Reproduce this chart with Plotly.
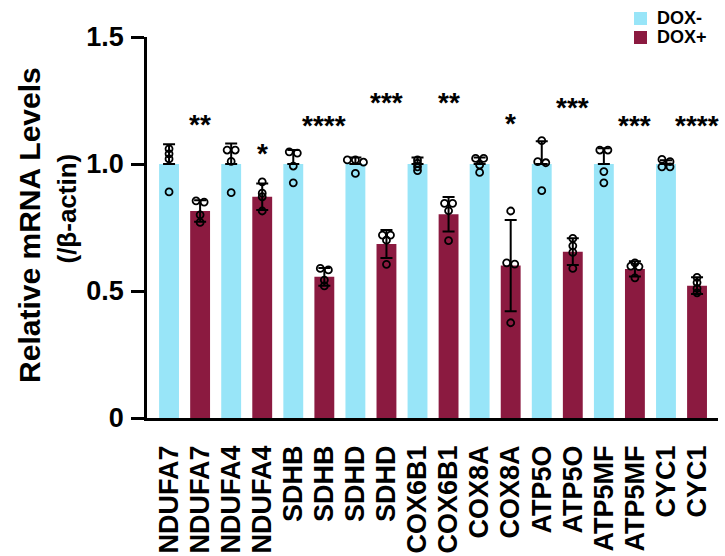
import plotly.graph_objects as go

genes = ["NDUFA7", "NDUFA4", "SDHB", "SDHD", "COX6B1", "COX8A", "ATP5O", "ATP5MF", "CYC1"]

dox_minus_mean = [1.0, 1.0, 1.0, 1.0, 1.0, 1.0, 1.0, 1.0, 1.0]
dox_minus_sd = [0.078, 0.081, 0.055, 0.026, 0.026, 0.026, 0.090, 0.062, 0.015]
dox_plus_mean = [0.815, 0.871, 0.556, 0.685, 0.802, 0.600, 0.655, 0.587, 0.521]
dox_plus_sd = [0.042, 0.052, 0.035, 0.055, 0.068, 0.180, 0.053, 0.030, 0.033]

dox_minus_pts = [
    [1.06, 1.04, 1.02, 0.89],
    [1.055, 1.055, 1.01, 0.887],
    [1.048, 1.043, 0.992, 0.926],
    [1.016, 1.016, 1.007, 0.963],
    [1.016, 1.003, 0.989, 0.974],
    [1.022, 1.022, 0.996, 0.967],
    [1.092, 1.009, 1.005, 0.895],
    [1.055, 1.055, 0.970, 0.926],
    [1.018, 1.009, 0.989, 0.989],
]
dox_plus_pts = [
    [0.855, 0.850, 0.800, 0.770],
    [0.930, 0.885, 0.871, 0.815],
    [0.589, 0.583, 0.543, 0.520],
    [0.720, 0.720, 0.700, 0.605],
    [0.845, 0.845, 0.816, 0.698],
    [0.815, 0.611, 0.606, 0.375],
    [0.707, 0.678, 0.652, 0.589],
    [0.611, 0.596, 0.598, 0.552],
    [0.554, 0.533, 0.510, 0.493],
]

star_labels = ["**", "*", "****", "***", "**", "*", "***", "***", "****"]
star_y = [1.167, 1.055, 1.165, 1.252, 1.252, 1.17, 1.236, 1.164, 1.164]

y_ticks = [0, 0.5, 1.0, 1.5]
y_ticktext = ["0", "0.5", "1.0", "1.5"]

series_names = ["DOX-", "DOX+"]
CYAN = "#98E5F8"
MAROON = "#8B1A40"
FONT = "Liberation Sans, Arial, sans-serif"


def jitter(vals, tol=0.012, step=0.26):
    offs = [0.0] * len(vals)
    order = sorted(range(len(vals)), key=lambda i: -vals[i])
    clusters = []
    for i in order:
        if clusters and abs(vals[clusters[-1][-1]] - vals[i]) < tol:
            clusters[-1].append(i)
        else:
            clusters.append([i])
    for c in clusters:
        n = len(c)
        for k, i in enumerate(c):
            offs[i] = (k - (n - 1) / 2) * step
    return offs


x_minus = [2 * g for g in range(len(genes))]
x_plus = [2 * g + 1 for g in range(len(genes))]

fig = go.Figure()
fig.add_trace(go.Bar(
    x=x_minus, y=dox_minus_mean, name=series_names[0], width=0.64,
    marker=dict(color=CYAN, line=dict(width=0)),
    error_y=dict(type="data", symmetric=False, array=dox_minus_sd,
                 arrayminus=[0] * len(genes), color="black", thickness=2, width=6),
))
fig.add_trace(go.Bar(
    x=x_plus, y=dox_plus_mean, name=series_names[1], width=0.64,
    marker=dict(color=MAROON, line=dict(width=0)),
    error_y=dict(type="data", array=dox_plus_sd, color="black", thickness=2, width=6),
))

px, py = [], []
for g in range(len(genes)):
    for xs, pts in ((x_minus[g], dox_minus_pts[g]), (x_plus[g], dox_plus_pts[g])):
        offs = jitter(pts)
        for v, o in zip(pts, offs):
            px.append(xs + o)
            py.append(v)
fig.add_trace(go.Scatter(
    x=px, y=py, mode="markers", showlegend=False, hoverinfo="skip",
    marker=dict(symbol="circle-open", size=7, color="black", line=dict(width=1.8)),
))

for g in range(len(genes)):
    fig.add_annotation(x=x_plus[g], y=star_y[g], text=star_labels[g], showarrow=False,
                       xanchor="center", yanchor="middle", yshift=-3,
                       font=dict(family=FONT, size=28, color="black", weight="bold"))

# y-axis title (two lines)
fig.add_annotation(xref="paper", yref="paper", x=-0.205, y=0.5066, text="Relative mRNA Levels",
                   textangle=-90, showarrow=False, xanchor="center", yanchor="middle",
                   font=dict(family=FONT, size=30, color="black", weight="bold"))
fig.add_annotation(xref="paper", yref="paper", x=-0.140, y=0.55, text="(/β-actin)",
                   textangle=-90, showarrow=False, xanchor="center", yanchor="middle",
                   font=dict(family=FONT, size=26, color="black", weight="bold"))

# manual legend
legend_colors = [CYAN, MAROON]
leg_sq_y = [(1.0315, 1.0656), (0.9816, 1.0157)]
leg_txt_y = [1.0486, 0.9987]
for name, col, (ya, yb), ty in zip(series_names, legend_colors, leg_sq_y, leg_txt_y):
    fig.add_shape(type="rect", xref="paper", yref="paper", x0=0.8529, x1=0.8757, y0=ya, y1=yb,
                  fillcolor=col, line=dict(width=0))
    fig.add_annotation(xref="paper", yref="paper", x=0.8897, y=ty, text=name, showarrow=False,
                       xanchor="left", yanchor="middle",
                       font=dict(family=FONT, size=18, color="black", weight="bold"))

tickvals = x_minus + x_plus
ticktext = genes + genes
order = sorted(range(len(tickvals)), key=lambda i: tickvals[i])
tickvals = [tickvals[i] for i in order]
ticktext = [ticktext[i] for i in order]

fig.update_layout(
    width=725, height=556,
    margin=dict(l=147, r=7, t=37, b=138, autoexpand=False),
    paper_bgcolor="white", plot_bgcolor="white",
    barmode="overlay",
    showlegend=False,
    hovermode=False,
    xaxis=dict(range=[-0.71, 17.675], tickvals=tickvals, ticktext=ticktext,
               tickangle=-90, ticks="", showgrid=False, zeroline=False,
               showline=True, linecolor="black", linewidth=2.5,
               ticklabelstandoff=14, automargin=False,
               tickfont=dict(family=FONT, size=27, color="black", weight="bold")),
    yaxis=dict(range=[0, 1.5], tickvals=y_ticks, ticktext=y_ticktext,
               ticks="outside", ticklen=13, tickwidth=2.5, tickcolor="black",
               showgrid=False, zeroline=False, showline=True, linecolor="black",
               linewidth=2.5, ticklabelstandoff=2, automargin=False,
               tickfont=dict(family=FONT, size=27, color="black", weight="bold")),
)

fig.write_html("out.html", config={"displayModeBar": False},
               post_script="document.body.style.margin='0';document.body.style.overflow='hidden';")
